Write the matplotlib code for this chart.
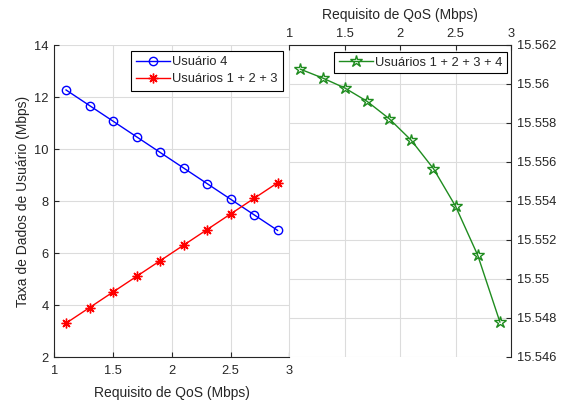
import matplotlib
matplotlib.use("Agg")
import matplotlib.pyplot as plt
from matplotlib.ticker import FuncFormatter

# Rates per QoS requirement
qos = [1.1, 1.3, 1.5, 1.7, 1.9, 2.1, 2.3, 2.5, 2.7, 2.9]
user4 = [12.27, 11.67, 11.07, 10.47, 9.87, 9.27, 8.67, 8.07, 7.47, 6.87]
users123 = [3.3, 3.9, 4.5, 5.1, 5.7, 6.3, 6.9, 7.5, 8.1, 8.7]
users1234 = [15.56074, 15.56029, 15.55978, 15.5591, 15.55821,
             15.5571, 15.55565, 15.55372, 15.55121, 15.54779]

left_yticks = [2, 4, 6, 8, 10, 12, 14]
right_yticks = [15.546, 15.548, 15.55, 15.552, 15.554, 15.556, 15.558, 15.56, 15.562]
xticks = [1, 1.5, 2, 2.5, 3]

plt.rcParams['font.family'] = ['Liberation Sans', 'DejaVu Sans']
axcol = '#262626'
gridcol = '#dcdcdc'
W, H = 561, 404

fig = plt.figure(figsize=(W / 100, H / 100), dpi=100)
ax1 = fig.add_axes([54.3 / W, 1 - 357 / H, 235 / W, 312 / H])
ax2 = fig.add_axes([289.3 / W, 1 - 357 / H, 221.7 / W, 312.4 / H])


def style(ax, xpad):
    ax.grid(True, color=gridcol, linewidth=0.8)
    ax.set_axisbelow(True)
    ax.tick_params(direction='in', length=3.5, width=0.8, colors=axcol,
                   labelsize=9.3, pad=4)
    ax.tick_params(axis='x', pad=xpad)
    for s in ax.spines.values():
        s.set_color(axcol)
        s.set_linewidth(0.8)


# left panel: individual users
ax1.plot(qos, user4, color='b', lw=1, marker='o', ms=6, mfc='none',
         mew=1, label='Usuário 4')
ax1.plot(qos, users123, color='r', lw=1, marker=(8, 2, 0), ms=7,
         mew=1, label='Usuários 1 + 2 + 3')
ax1.set_xlim(1, 3)
ax1.set_ylim(2, 14)
ax1.set_xticks(xticks)
ax1.set_yticks(left_yticks)
ax1.xaxis.set_major_formatter(FuncFormatter(lambda v, p: '%g' % v))
ax1.spines['top'].set_visible(False)
ax1.spines['right'].set_visible(False)
style(ax1, 6)
ax1.set_xlabel('Requisito de QoS (Mbps)', fontsize=10, color=axcol, labelpad=6)
ax1.set_ylabel('Taxa de Dados de Usuário (Mbps)', fontsize=10, color=axcol,
               labelpad=3)
leg1 = ax1.legend(loc='upper right', bbox_to_anchor=(0.973, 0.981),
                  fontsize=9.3, fancybox=False, edgecolor='black',
                  framealpha=1, handlelength=2.6, handletextpad=0.2,
                  borderpad=0.4, labelspacing=0.4, borderaxespad=0)
leg1.get_frame().set_linewidth(0.8)
for t in leg1.get_texts():
    t.set_color(axcol)

# right panel: total rate
ax2.plot(qos, users1234, color='#1f8c1f', lw=1, marker='*', ms=9,
         mfc='none', mew=1, label='Usuários 1 + 2 + 3 + 4')
ax2.set_xlim(1, 3)
ax2.set_ylim(15.546, 15.562)
ax2.set_xticks(xticks)
ax2.set_yticks(right_yticks)
ax2.xaxis.set_major_formatter(FuncFormatter(lambda v, p: '%g' % v))
ax2.yaxis.set_major_formatter(FuncFormatter(lambda v, p: '%g' % round(v, 3)))
ax2.xaxis.tick_top()
ax2.xaxis.set_label_position('top')
ax2.yaxis.tick_right()
ax2.spines['bottom'].set_visible(False)
ax2.spines['left'].set_visible(False)
style(ax2, 3)
ax2.set_xlabel('Requisito de QoS (Mbps)', fontsize=10, color=axcol, labelpad=7)
leg2 = ax2.legend(loc='upper right', bbox_to_anchor=(0.982, 0.976),
                  fontsize=9.3, fancybox=False, edgecolor='black',
                  framealpha=1, handlelength=2.6, handletextpad=0.2,
                  borderpad=0.35, borderaxespad=0)
leg2.get_frame().set_linewidth(0.8)
for t in leg2.get_texts():
    t.set_color(axcol)

fig.savefig('out.png', dpi=100)
